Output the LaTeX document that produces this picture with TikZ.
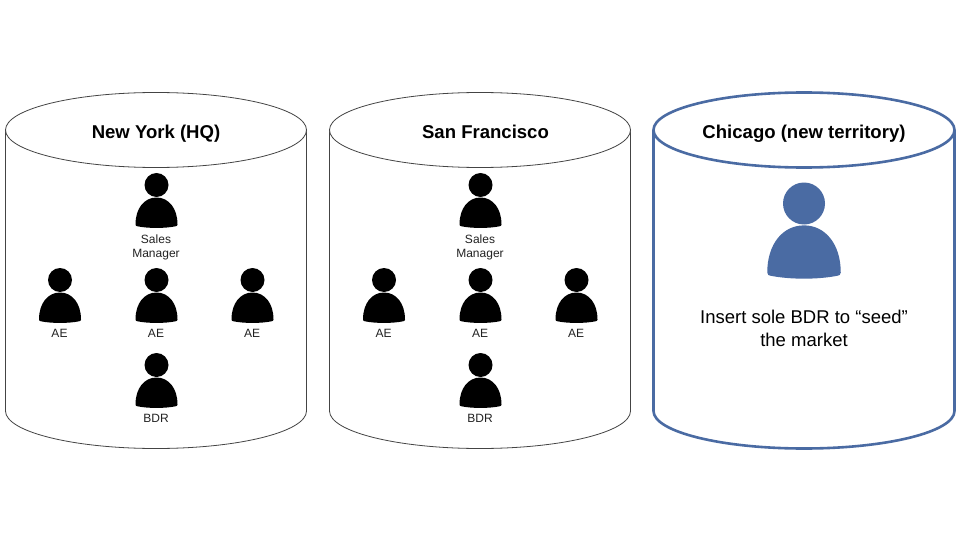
\documentclass[tikz,border=0pt]{standalone}
\usepackage{fontspec}
\setmainfont{Liberation Sans}
\definecolor{chi}{HTML}{4A6BA3}
\definecolor{rim}{HTML}{444444}
\definecolor{lab}{HTML}{222222}
\tikzset{
  x=1pt,y=-1pt,
  person/.pic={
    \fill[pic actions] (0,0) circle[radius=12];
    \fill[pic actions] (-21,39.5) .. controls (-21,23) and (-12,12.5) .. (0,12.5) .. controls (12,12.5) and (21,23) .. (21,39.5) .. controls (21,41) and (20,41) .. (19,41.3) .. controls (8,43.5) and (-8,43.5) .. (-19,41.3) .. controls (-20,41) and (-21,41) .. (-21,39.5) -- cycle;
  },
  title/.style={font=\fontsize{18.55}{21}\selectfont\bfseries,text=black,inner sep=0pt,align=center,anchor=base},
  small/.style={font=\fontsize{12}{14}\selectfont,text=lab,inner sep=0pt,align=center},
  body/.style={font=\fontsize{18.5}{23}\selectfont,text=black,inner sep=0pt,align=center},
  cyl/.style={draw=rim,line width=0.8pt,fill=white},
  cylblue/.style={draw=chi,line width=2.6pt,fill=white},
}
\newcommand{\drum}[2]{%
  \draw[#2] (#1-150.5,130) -- (#1-150.5,411) arc[start angle=180,end angle=360,x radius=150.5,y radius=-37.5] -- (#1+150.5,130);
  \draw[#2] (#1,130) ellipse[x radius=150.5,y radius=37.5];
}
\newcommand{\team}[2]{%
  \pic[black] at (#1,185) {person};
  \pic[black] at (#1,280) {person};
  \pic[black] at (#1-96.5,280) {person};
  \pic[black] at (#1+96,280) {person};
  \pic[black] at (#1,365) {person};
  \node[small] (#2m) at (#1-0.5,247.5) {Sales\\Manager};
  \node[small] (#2a) at (#1-97,333.5) {AE};
  \node[small] (#2b) at (#1-0.5,333.5) {AE};
  \node[small] (#2c) at (#1+95.5,333.5) {AE};
  \node[small] (#2d) at (#1-0.5,418.5) {BDR};
}
\begin{document}
\begin{tikzpicture}
\useasboundingbox (0,0) rectangle (960,540);
\fill[white] (0,0) rectangle (960,540);
\drum{156}{cyl}
\drum{480}{cyl}
\drum{804}{cylblue}
\node[title] (ny) at (156,138.2) {New York (HQ)};
\node[title] (sf) at (485.5,138.2) {San Francisco};
\node[title] (ch) at (804,138.2) {Chicago (new territory)};
\team{156.5}{p}
\team{480.5}{q}
\pic[chi,scale=1.75] at (804,203.5) {person};
\node[body] (ins) at (804,328) {Insert sole BDR to “seed”\\the market};
\end{tikzpicture}
\end{document}
